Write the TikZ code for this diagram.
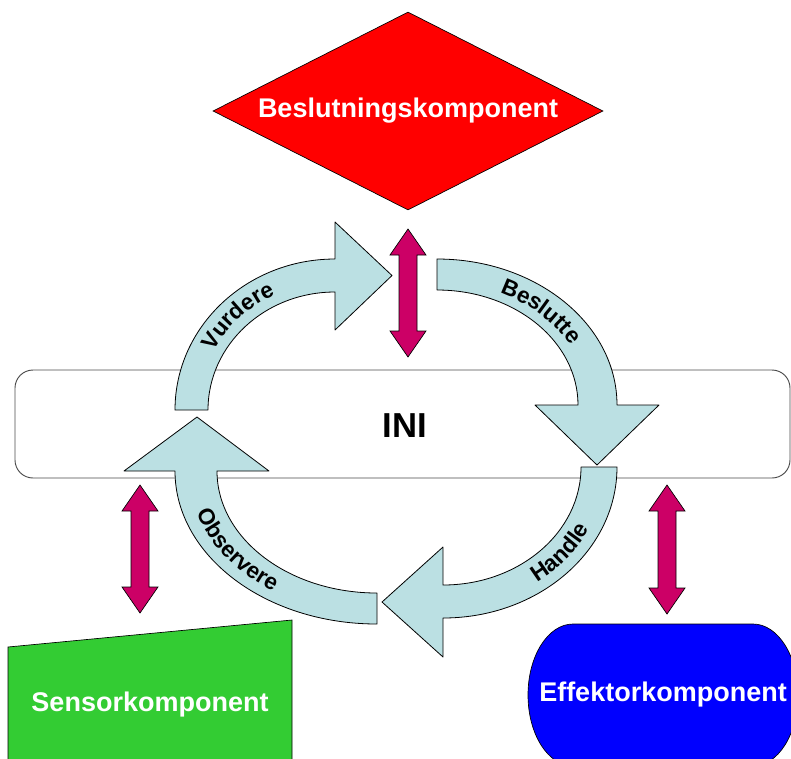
\documentclass[tikz,border=0pt]{standalone}
\usepackage{fontspec}
\setmainfont{Liberation Sans}
\usetikzlibrary{shapes.geometric,decorations.text}
\definecolor{cycblue}{HTML}{BBE0E3}
\definecolor{dblmag}{HTML}{CC0066}
\definecolor{bgreen}{HTML}{33CC33}
\newcommand\lblfont{\bfseries\fontsize{17}{17}\selectfont}
\newcommand\dblarr[3]{\draw[dblarrow] (#1,#2) -- (#1+18,#2+26) -- (#1+9,#2+26) -- (#1+9,#3-26) -- (#1+18,#3-26) -- (#1,#3) -- (#1-18,#3-26) -- (#1-9,#3-26) -- (#1-9,#2+26) -- (#1-18,#2+26) -- cycle;}
\begin{document}
\begin{tikzpicture}[x=0.75pt,y=-0.75pt,
  cyc/.style={fill=cycblue, draw=black, line width=0.6pt, line join=round},
  dblarrow/.style={fill=dblmag, draw=black, line width=0.5pt, line join=miter},
  bigtext/.style={font=\bfseries\fontsize{20.25}{24}\selectfont, text=white},
  lbl/.style={decorate, decoration={text along path, text align=center, text={|\lblfont|#1}}}]
\useasboundingbox (0,0) rectangle (791,758);
\clip (0,0) rectangle (791,758);
% INI box
\node[draw=black!70, line width=0.7pt, fill=white, rounded corners=13.5pt, minimum width=581.25pt, minimum height=81pt, inner sep=0pt] (ini) at (402.5,424) {};
\node[font=\bfseries\fontsize{26}{30}\selectfont] (initext) at (405,426) {INI};
% cycle arrows
\draw[cyc] (175,410) arc[start angle=180, end angle=270, x radius=160, y radius=151]
  -- (335,222) -- (392,275.5) -- (335,330) -- (335,292)
  arc[start angle=270, end angle=180, x radius=127, y radius=118] -- cycle;
\draw[cyc] (437,259) arc[start angle=270, end angle=360, x radius=180, y radius=146]
  -- (659,405) -- (597,465) -- (535,405) -- (578,405)
  arc[start angle=0, end angle=-90, x radius=141, y radius=115] -- cycle;
\draw[cyc] (617,467) arc[start angle=0, end angle=90, x radius=174, y radius=151]
  -- (443,657) -- (382,602) -- (443,547) -- (443,585)
  arc[start angle=90, end angle=0, x radius=138, y radius=118] -- cycle;
\draw[cyc] (377,624) arc[start angle=90, end angle=180, x radius=202, y radius=153]
  -- (124,471) -- (197,417) -- (269,471) -- (217,471)
  arc[start angle=180, end angle=90, x radius=160, y radius=122] -- cycle;
% labels
\path[lbl=Vurdere] (198,410) arc[start angle=180, end angle=270, x radius=137, y radius=128];
\path[lbl=Beslutte] (437,282) arc[start angle=270, end angle=360, x radius=153, y radius=123];
\path[lbl=Handle] (476.9,605.4) arc[start angle=78, end angle=0, x radius=163, y radius=141.5];
\path[lbl=Observere] (189,471) arc[start angle=180, end angle=110, x radius=188, y radius=144.5];
% double arrows
\dblarr{408}{229}{357}
\dblarr{140}{485}{613}
\dblarr{667}{485}{614}
% decision diamond
\node[diamond, aspect=2, draw=black, line width=0.5pt, fill=red, minimum width=292.5pt, minimum height=148.5pt, inner sep=0pt, bigtext] (besl) at (408,111) {Beslutningskomponent};
% sensor
\draw[fill=bgreen, draw=black, line width=0.5pt] (8,647) -- (292,620) -- (292,775) -- (8,775) -- cycle;
\node[bigtext] (sensor) at (150,705) {Sensorkomponent};
% effector
\draw[fill=blue, draw=black, line width=0.5pt] (573,624) -- (753,624)
  arc[start angle=270, end angle=450, x radius=45, y radius=71]
  -- (573,766) arc[start angle=90, end angle=270, x radius=45, y radius=71] -- cycle;
\node[bigtext] (effektor) at (663,695) {Effektorkomponent};
\end{tikzpicture}
\end{document}
